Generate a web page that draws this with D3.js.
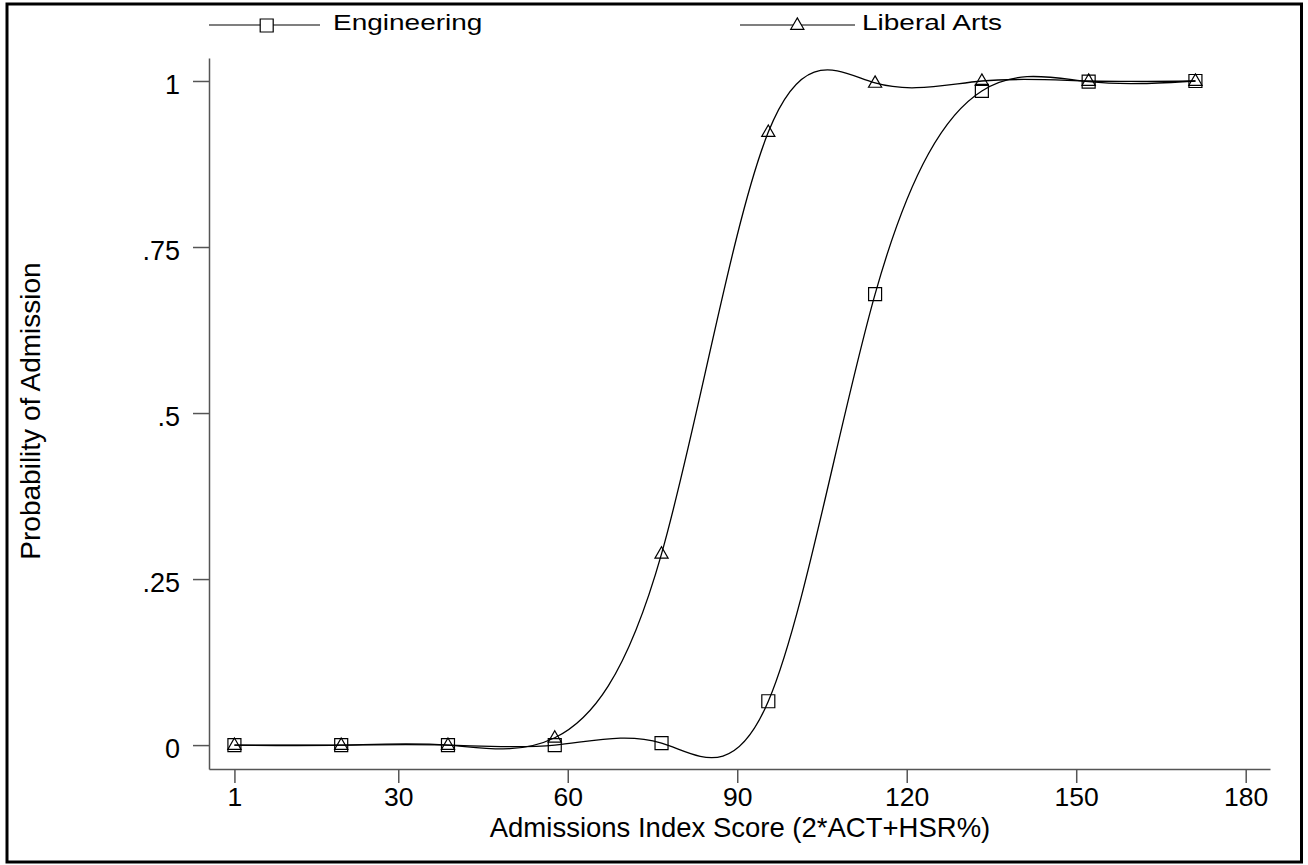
<!DOCTYPE html>
<html>
<head>
<meta charset="utf-8">
<script src="https://cdn.jsdelivr.net/npm/d3@7"></script>
<style>
  html, body { margin: 0; padding: 0; background: #fff; }
  svg { display: block; font-family: "Liberation Sans", Arial, Helvetica, sans-serif; }
</style>
</head>
<body>
<svg id="chart" width="1308" height="865"></svg>
<script>
// ---- data ----
const scores = [1, 19.9, 38.8, 57.7, 76.6, 95.5, 114.4, 133.3, 152.2, 171.1];
const engineering = [0, 0, 0, 0, 0.003, 0.066, 0.679, 0.985, 0.999, 1.0];
const liberalArts = [0, 0, 0, 0.011, 0.288, 0.923, 0.997, 1.0, 1.0, 1.0];
const seriesNames = ["Engineering", "Liberal Arts"];
const xTicks = [1, 30, 60, 90, 120, 150, 180];
const yTicks = [0, 0.25, 0.5, 0.75, 1];
const yTickLabels = ["0", ".25", ".5", ".75", "1"];
const xTitle = "Admissions Index Score (2*ACT+HSR%)";
const yTitle = "Probability of Admission";

const svg = d3.select("#chart");

// outer frame
svg.append("rect")
  .attr("x", 7).attr("y", 4).attr("width", 1294.5).attr("height", 858)
  .attr("fill", "none").attr("stroke", "#000").attr("stroke-width", 3);

const x = d3.scaleLinear().domain([-3.5, 184.3]).range([209, 1270]);
const y = d3.scaleLinear().domain([-0.036, 1.0346]).range([769, 58]);

const axisColor = "#555";

// x axis
const gx = svg.append("g").attr("transform", "translate(0,769)")
  .call(d3.axisBottom(x).tickValues(xTicks).tickSize(14).tickSizeOuter(0).tickFormat(d3.format("d")));
gx.select(".domain").attr("stroke", axisColor).attr("stroke-width", 1.5);
gx.selectAll(".tick line").attr("stroke", axisColor).attr("stroke-width", 1.5);
gx.selectAll(".tick text").attr("y", 36.5).attr("dy", 0)
  .attr("font-size", 26.5).attr("fill", "#000")
  .attr("font-family", "'Liberation Sans', Arial, sans-serif");

// y axis
const gy = svg.append("g").attr("transform", "translate(209,0)")
  .call(d3.axisLeft(y).tickValues(yTicks).tickSize(16).tickSizeOuter(0)
    .tickFormat((d, i) => yTickLabels[i]));
gy.select(".domain").attr("stroke", axisColor).attr("stroke-width", 1.5);
gy.selectAll(".tick line").attr("stroke", axisColor).attr("stroke-width", 1.5);
gy.selectAll(".tick text").attr("x", -29).attr("dy", 0).attr("y", 12.5)
  .attr("font-size", 27).attr("fill", "#000")
  .attr("font-family", "'Liberation Sans', Arial, sans-serif");

// axis titles
svg.append("text")
  .attr("x", 740).attr("y", 837)
  .attr("text-anchor", "middle").attr("font-size", 27.5)
  .text(xTitle);
svg.append("text")
  .attr("transform", "translate(40,411) rotate(-90)")
  .attr("text-anchor", "middle").attr("font-size", 28)
  .text(yTitle);

// lines
const line = d3.line().x(d => x(d[0])).y(d => y(d[1])).curve(d3.curveNatural);
const engData = scores.map((s, i) => [s, engineering[i]]);
const libData = scores.map((s, i) => [s, liberalArts[i]]);

svg.append("path").datum(engData).attr("d", line)
  .attr("fill", "none").attr("stroke", "#000").attr("stroke-width", 1.3);
svg.append("path").datum(libData).attr("d", line)
  .attr("fill", "none").attr("stroke", "#000").attr("stroke-width", 1.3);

const sq = d3.symbol().type(d3.symbolSquare).size(169);
const tri = d3.symbol().type(d3.symbolTriangle).size(75);

svg.append("g").selectAll("path").data(engData).join("path")
  .attr("transform", d => `translate(${x(d[0])},${y(d[1])})`)
  .attr("d", sq).attr("fill", "none").attr("stroke", "#000").attr("stroke-width", 1.2);
svg.append("g").selectAll("path").data(libData).join("path")
  .attr("transform", d => `translate(${x(d[0])},${y(d[1]) + 0.5})`)
  .attr("d", tri).attr("fill", "none").attr("stroke", "#000").attr("stroke-width", 1.2);

// legend
const legend = [
  { name: seriesNames[0], x0: 209, x1: 320, mx: 266.7, tx: 333, sym: sq },
  { name: seriesNames[1], x0: 740, x1: 855, mx: 797.3, tx: 862, sym: tri }
];
legend.forEach(l => {
  svg.append("line").attr("x1", l.x0).attr("x2", l.x1).attr("y1", 25).attr("y2", 25)
    .attr("stroke", "#000").attr("stroke-width", 1.2);
  svg.append("path").attr("transform", `translate(${l.mx},25.5)`).attr("d", l.sym)
    .attr("fill", "#fff").attr("stroke", "#000").attr("stroke-width", 1.2);
  svg.append("text").attr("transform", `translate(${l.tx},29.5) scale(1,0.8)`)
    .attr("font-size", 28)
    .text(l.name);
});
</script>
</body>
</html>
